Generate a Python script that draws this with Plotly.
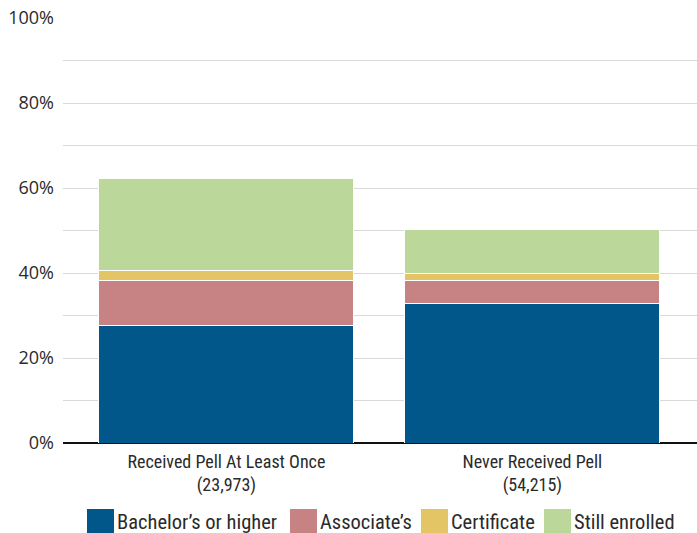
import plotly.graph_objects as go

categories = ["Received Pell At Least Once<br>(23,973)", "Never Received Pell<br>(54,215)"]
series_names = ["Bachelor’s or higher", "Associate’s", "Certificate", "Still enrolled"]
bachelors = [27.6, 32.8]
associates = [10.6, 5.5]
certificate = [2.3, 1.5]
still_enrolled = [21.7, 10.4]
y_ticks = [0, 20, 40, 60, 80, 100]
y_tick_labels = ["0%", "20%", "40%", "60%", "80%", "100%"]

colors = ["#02578A", "#C78284", "#E3C566", "#BBD79A"]
values = [bachelors, associates, certificate, still_enrolled]

FONT = "Liberation Sans Narrow, Roboto Condensed, DejaVu Sans Condensed, Roboto, sans-serif"
TXT = "#2a2a2a"

fig = go.Figure()
for name, vals, col in zip(series_names, values, colors):
    fig.add_trace(go.Bar(
        x=list(range(len(categories))), y=vals, name=name,
        marker=dict(color=col, line=dict(color="white", width=1)),
        width=0.833, showlegend=False,
    ))

# manual legend
L, W = 63, 634
T, H = 18, 425
def px_x(p):
    return (p - L) / W
def px_y(p):
    return (T + H - p) / H

sw_x = [87, 290, 421, 544]
shapes = []
annotations = []
for xs, name, col in zip(sw_x, series_names, colors):
    shapes.append(dict(type="rect", xref="paper", yref="paper",
                       x0=px_x(xs), x1=px_x(xs + 27), y0=px_y(536), y1=px_y(509),
                       fillcolor=col, line=dict(width=0)))
    annotations.append(dict(xref="paper", yref="paper", x=px_x(xs + 28), y=px_y(522),
                            text=name, showarrow=False, xanchor="left", yanchor="middle",
                            font=dict(family=FONT, size=20.5, color=TXT)))

fig.update_layout(
    barmode="stack",
    width=697, height=533,
    margin=dict(l=L, r=0, t=T, b=533 - T - H),
    plot_bgcolor="white", paper_bgcolor="white",
    font=dict(family=FONT, color=TXT),
    shapes=shapes, annotations=annotations,
    xaxis=dict(
        tickmode="array", tickvals=list(range(len(categories))), ticktext=categories,
        range=[-0.534, 1.538], showgrid=False, zeroline=False,
        showline=False, tickfont=dict(size=18, family=FONT, color=TXT),
        ticks="", fixedrange=True, ticklabelstandoff=6,
    ),
    yaxis=dict(
        range=[0, 100], tickmode="array", tickvals=y_ticks, ticktext=y_tick_labels,
        tickfont=dict(size=18, family="Open Sans, sans-serif", color=TXT),
        showgrid=True, gridcolor="#D9D9D9", gridwidth=1.2,
        minor=dict(tickmode="array", tickvals=[10, 30, 50, 70, 90], showgrid=True,
                   gridcolor="#D9D9D9", gridwidth=1.2),
        zeroline=True, zerolinecolor="#111", zerolinewidth=2,
        ticks="", ticklabelstandoff=8,
    ),
)

fig.write_html("out.html")
